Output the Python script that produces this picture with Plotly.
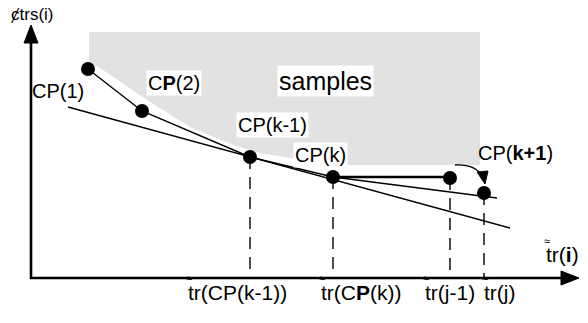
import plotly.graph_objects as go

# ---- data (diagram coordinates) ----
cp_names = ["CP(1)", "CP(2)", "CP(k-1)", "CP(k)", "CP(j-1)", "CP(j)"]
cp_x = [88, 142, 250, 333, 450, 484]
cp_y = [69, 111, 157, 177, 178, 193]

samples_x = [89, 89, 103, 147, 190, 233, 260, 333, 480, 480, 89]
samples_y = [32, 62, 70, 100, 127, 145, 153, 165, 165, 32, 32]

tangent_x = [68, 510]
tangent_y = [107, 228]

chord_x = [333, 497]
chord_y = [177, 198]

axis_origin = [31, 278]
yaxis_top = 25
xaxis_right = 579

label_texts = ["CP(1)", "C<b>P</b>(2)", "CP(k-1)", "CP(k)", "CP(<b>k+1</b>)"]
label_x = [58, 174, 272, 320, 515]
label_y = [91, 83, 125, 155, 153]
label_bg = [False, True, True, True, False]

tick_texts = ["tr(CP(k-1))", "tr(C<b>P</b>(k))", "tr(j-1)", "tr(j)"]
tick_left = [186, 319, 423, 482]
tick_y = 292

font_family = "Liberation Sans, Arial, sans-serif"

# page body has an 8px margin on every side; size the figure so no scrollbars
# appear and shift the ranges so diagram coords = window pixels
OFF = 8
W, H = 588, 323

fig = go.Figure()

# samples region
fig.add_trace(go.Scatter(x=samples_x, y=samples_y, fill="toself", mode="none",
                         fillcolor="#e2e2e2", hoverinfo="skip"))

# dashed drop lines
for i in [2, 3, 4, 5]:
    fig.add_trace(go.Scatter(x=[cp_x[i], cp_x[i]], y=[cp_y[i], axis_origin[1]],
                             mode="lines", line=dict(color="black", width=1.4, dash="12px,8px"),
                             hoverinfo="skip"))

# tangent line
fig.add_trace(go.Scatter(x=tangent_x, y=tangent_y, mode="lines",
                         line=dict(color="black", width=1.4), hoverinfo="skip"))
# hull polyline CP(1)..CP(k)
fig.add_trace(go.Scatter(x=cp_x[:4], y=cp_y[:4], mode="lines",
                         line=dict(color="black", width=1.4), hoverinfo="skip"))
# chord CP(k) -> CP(j)
fig.add_trace(go.Scatter(x=chord_x, y=chord_y, mode="lines",
                         line=dict(color="black", width=1.4), hoverinfo="skip"))
# horizontal CP(k) -> CP(j-1)
fig.add_trace(go.Scatter(x=[cp_x[3], cp_x[4]], y=[cp_y[3], cp_y[3]], mode="lines",
                         line=dict(color="black", width=2.4), hoverinfo="skip"))

# points
fig.add_trace(go.Scatter(x=cp_x, y=cp_y, mode="markers",
                         marker=dict(color="black", size=14), hoverinfo="skip"))

# axes
ox, oy = axis_origin
fig.add_trace(go.Scatter(x=[ox, ox, xaxis_right - 14], y=[yaxis_top + 14, oy, oy], mode="lines",
                         line=dict(color="black", width=2.6), hoverinfo="skip"))
fig.add_trace(go.Scatter(x=[ox - 7, ox, ox + 7, ox - 7],
                         y=[yaxis_top + 18, yaxis_top, yaxis_top + 18, yaxis_top + 18],
                         fill="toself", mode="lines", fillcolor="black",
                         line=dict(color="black", width=1), hoverinfo="skip"))
fig.add_trace(go.Scatter(x=[xaxis_right - 18, xaxis_right, xaxis_right - 18, xaxis_right - 18],
                         y=[oy - 7, oy, oy + 7, oy - 7],
                         fill="toself", mode="lines", fillcolor="black",
                         line=dict(color="black", width=1), hoverinfo="skip"))

# curved arrow toward CP(j)
fig.add_shape(type="path", path="M 455 165 Q 475 164 482 176",
              line=dict(color="black", width=1.4))
fig.add_trace(go.Scatter(x=[477, 488, 485, 477], y=[172, 171, 184, 172], fill="toself",
                         mode="lines", fillcolor="black", line=dict(color="black", width=1),
                         hoverinfo="skip"))

annotations = []
for t, x, y, bg in zip(label_texts, label_x, label_y, label_bg):
    annotations.append(dict(x=x, y=y, text=t, showarrow=False,
                            font=dict(family=font_family, size=20, color="black"),
                            bgcolor="white" if bg else None, borderpad=1))
annotations.append(dict(x=325, y=81, text="samples", showarrow=False,
                        font=dict(family=font_family, size=25, color="black"),
                        bgcolor="white", borderpad=1))
annotations.append(dict(x=32, y=14, text="ȼtrs(i)", showarrow=False, xanchor="center",
                        font=dict(family=font_family, size=17, color="black")))
for t, x in zip(tick_texts, tick_left):
    annotations.append(dict(x=x, y=tick_y, text=t, showarrow=False, xanchor="left",
                            font=dict(family=font_family, size=21, color="black")))
    annotations.append(dict(x=x + 3, y=tick_y - 14, text="≈", showarrow=False,
                            font=dict(family=font_family, size=11, color="black")))
annotations.append(dict(x=544, y=254, text="tr(<b>i</b>)", showarrow=False, xanchor="left",
                        font=dict(family=font_family, size=21, color="black")))
annotations.append(dict(x=547, y=241, text="≈", showarrow=False,
                        font=dict(family=font_family, size=11, color="black")))

fig.update_layout(
    width=W - OFF, height=H - 2 * OFF,
    margin=dict(l=0, r=0, t=0, b=0),
    paper_bgcolor="white", plot_bgcolor="white",
    showlegend=False,
    xaxis=dict(range=[OFF, W], visible=False, fixedrange=True),
    yaxis=dict(range=[H - OFF, OFF], visible=False, fixedrange=True),
    annotations=annotations,
)

fig.write_html("out.html")
